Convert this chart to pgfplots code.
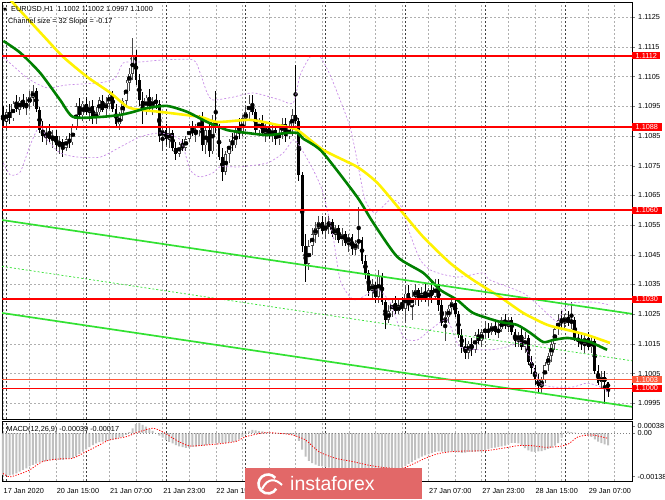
\documentclass[border=0pt]{standalone}
\usepackage{fontspec}
\setmainfont{Liberation Sans}
\newfontfamily\dejavu{DejaVu Sans}
\usepackage{pgfplots}
\usepackage{pgfplotstable}
\pgfplotsset{compat=1.18}

\definecolor{mtgreen}{RGB}{0,128,0}
\definecolor{chan}{RGB}{50,225,50}
\definecolor{bband}{RGB}{200,140,230}
\definecolor{histgray}{RGB}{192,192,192}
\definecolor{askline}{RGB}{255,90,60}
\definecolor{wmred}{RGB}{226,104,104}
\definecolor{gridgray}{RGB}{175,175,175}
\definecolor{bullgray}{RGB}{70,70,70}

\newcommand\lab{\fontsize{7.3}{8}\selectfont}
\tikzset{pricetag/.style={fill=red, text=white, font=\lab, anchor=west, inner xsep=3.5pt, inner ysep=1pt}}

% EURUSD H1 candles, bar 0 = 17 Jan 23:00
\pgfplotstableread{
i o h l c
0 1.1092 1.1095 1.1088 1.1090
1 1.1090 1.1094 1.1087 1.1093
2 1.1093 1.1096 1.1089 1.1091
3 1.1091 1.1097 1.1090 1.1096
4 1.1096 1.1099 1.1093 1.1094
5 1.1094 1.1098 1.1092 1.1097
6 1.1097 1.1099 1.1094 1.1095
7 1.1095 1.1098 1.1092 1.1096
8 1.1096 1.1100 1.1094 1.1098
9 1.1098 1.1102 1.1095 1.1100
10 1.1100 1.1101 1.1093 1.1094
11 1.1094 1.1095 1.1086 1.1087
12 1.1087 1.1090 1.1083 1.1085
13 1.1085 1.1088 1.1082 1.1086
14 1.1086 1.1089 1.1083 1.1084
15 1.1084 1.1087 1.1081 1.1085
16 1.1085 1.1087 1.1080 1.1082
17 1.1082 1.1085 1.1079 1.1083
18 1.1083 1.1084 1.1078 1.1081
19 1.1081 1.1085 1.1080 1.1084
20 1.1084 1.1086 1.1081 1.1083
21 1.1083 1.1089 1.1082 1.1088
22 1.1088 1.1096 1.1087 1.1095
23 1.1095 1.1098 1.1091 1.1092
24 1.1092 1.1097 1.1090 1.1096
25 1.1096 1.1098 1.1092 1.1093
26 1.1093 1.1097 1.1090 1.1095
27 1.1095 1.1097 1.1089 1.1091
28 1.1091 1.1095 1.1089 1.1093
29 1.1093 1.1098 1.1092 1.1097
30 1.1097 1.1099 1.1093 1.1094
31 1.1094 1.1098 1.1092 1.1096
32 1.1096 1.1100 1.1094 1.1099
33 1.1099 1.1100 1.1093 1.1094
34 1.1094 1.1096 1.1088 1.1089
35 1.1089 1.1093 1.1087 1.1092
36 1.1092 1.1098 1.1090 1.1097
37 1.1097 1.1104 1.1095 1.1103
38 1.1103 1.1108 1.1100 1.1106
39 1.1106 1.1118 1.1104 1.1112
40 1.1112 1.1114 1.1102 1.1104
41 1.1104 1.1106 1.1095 1.1097
42 1.1097 1.1100 1.1089 1.1094
43 1.1094 1.1099 1.1092 1.1098
44 1.1098 1.1101 1.1094 1.1095
45 1.1095 1.1098 1.1092 1.1097
46 1.1097 1.1099 1.1094 1.1096
47 1.1096 1.1097 1.1083 1.1085
48 1.1085 1.1088 1.1080 1.1087
49 1.1087 1.1089 1.1082 1.1084
50 1.1084 1.1088 1.1081 1.1086
51 1.1086 1.1087 1.1080 1.1081
52 1.1081 1.1083 1.1077 1.1079
53 1.1079 1.1083 1.1078 1.1082
54 1.1082 1.1084 1.1080 1.1081
55 1.1081 1.1085 1.1080 1.1084
56 1.1084 1.1089 1.1083 1.1088
57 1.1088 1.1090 1.1085 1.1086
58 1.1086 1.1089 1.1083 1.1087
59 1.1087 1.1092 1.1085 1.1091
60 1.1091 1.1093 1.1080 1.1082
61 1.1082 1.1088 1.1079 1.1087
62 1.1087 1.1089 1.1078 1.1080
63 1.1080 1.1092 1.1079 1.1090
64 1.1090 1.1100 1.1086 1.1088
65 1.1088 1.1089 1.1077 1.1078
66 1.1078 1.1081 1.1070 1.1073
67 1.1073 1.1080 1.1072 1.1079
68 1.1079 1.1084 1.1076 1.1083
69 1.1083 1.1086 1.1080 1.1082
70 1.1082 1.1088 1.1081 1.1087
71 1.1087 1.1091 1.1084 1.1086
72 1.1086 1.1092 1.1085 1.1091
73 1.1091 1.1095 1.1088 1.1093
74 1.1093 1.1099 1.1090 1.1096
75 1.1096 1.1099 1.1092 1.1093
76 1.1093 1.1094 1.1086 1.1087
77 1.1087 1.1091 1.1085 1.1090
78 1.1090 1.1092 1.1085 1.1086
79 1.1086 1.1089 1.1083 1.1088
80 1.1088 1.1090 1.1084 1.1085
81 1.1085 1.1089 1.1083 1.1087
82 1.1087 1.1089 1.1082 1.1084
83 1.1084 1.1088 1.1082 1.1086
84 1.1086 1.1091 1.1084 1.1089
85 1.1089 1.1091 1.1083 1.1085
86 1.1085 1.1090 1.1084 1.1088
87 1.1088 1.1094 1.1085 1.1092
88 1.1092 1.1109 1.1089 1.1090
89 1.1090 1.1091 1.1070 1.1072
90 1.1072 1.1073 1.1046 1.1048
91 1.1048 1.1052 1.1036 1.1042
92 1.1042 1.1050 1.1040 1.1048
93 1.1048 1.1054 1.1045 1.1052
94 1.1052 1.1056 1.1049 1.1054
95 1.1054 1.1058 1.1051 1.1056
96 1.1056 1.1058 1.1052 1.1053
97 1.1053 1.1057 1.1051 1.1055
98 1.1055 1.1058 1.1052 1.1056
99 1.1056 1.1057 1.1051 1.1052
100 1.1052 1.1055 1.1050 1.1054
101 1.1054 1.1055 1.1049 1.1050
102 1.1050 1.1054 1.1048 1.1052
103 1.1052 1.1053 1.1048 1.1049
104 1.1049 1.1052 1.1046 1.1051
105 1.1051 1.1052 1.1045 1.1047
106 1.1047 1.1050 1.1045 1.1049
107 1.1049 1.1061 1.1047 1.1050
108 1.1050 1.1051 1.1042 1.1043
109 1.1043 1.1045 1.1037 1.1039
110 1.1039 1.1040 1.1031 1.1033
111 1.1033 1.1037 1.1030 1.1035
112 1.1035 1.1036 1.1029 1.1031
113 1.1031 1.1040 1.1029 1.1038
114 1.1038 1.1039 1.1028 1.1029
115 1.1029 1.1030 1.1020 1.1023
116 1.1023 1.1028 1.1022 1.1026
117 1.1026 1.1030 1.1024 1.1029
118 1.1029 1.1031 1.1025 1.1026
119 1.1026 1.1030 1.1025 1.1028
120 1.1028 1.1031 1.1026 1.1027
121 1.1027 1.1034 1.1022 1.1032
122 1.1032 1.1035 1.1026 1.1028
123 1.1028 1.1033 1.1023 1.1031
124 1.1031 1.1035 1.1028 1.1033
125 1.1033 1.1034 1.1028 1.1030
126 1.1030 1.1034 1.1029 1.1032
127 1.1032 1.1035 1.1029 1.1030
128 1.1030 1.1034 1.1028 1.1033
129 1.1033 1.1036 1.1029 1.1031
130 1.1031 1.1037 1.1030 1.1035
131 1.1035 1.1037 1.1026 1.1028
132 1.1028 1.1030 1.1021 1.1022
133 1.1022 1.1026 1.1016 1.1024
134 1.1024 1.1028 1.1022 1.1027
135 1.1027 1.1031 1.1025 1.1029
136 1.1029 1.1030 1.1024 1.1025
137 1.1025 1.1026 1.1017 1.1018
138 1.1018 1.1020 1.1012 1.1014
139 1.1014 1.1017 1.1010 1.1012
140 1.1012 1.1016 1.1010 1.1015
141 1.1015 1.1017 1.1011 1.1013
142 1.1013 1.1019 1.1012 1.1018
143 1.1018 1.1020 1.1015 1.1016
144 1.1016 1.1020 1.1014 1.1019
145 1.1019 1.1022 1.1017 1.1020
146 1.1020 1.1022 1.1017 1.1019
147 1.1019 1.1022 1.1018 1.1021
148 1.1021 1.1023 1.1018 1.1019
149 1.1019 1.1022 1.1017 1.1020
150 1.1020 1.1024 1.1019 1.1023
151 1.1023 1.1025 1.1020 1.1021
152 1.1021 1.1024 1.1019 1.1023
153 1.1023 1.1024 1.1018 1.1019
154 1.1019 1.1020 1.1014 1.1016
155 1.1016 1.1019 1.1014 1.1018
156 1.1018 1.1021 1.1013 1.1014
157 1.1014 1.1019 1.1012 1.1017
158 1.1017 1.1018 1.1008 1.1009
159 1.1009 1.1011 1.1005 1.1007
160 1.1007 1.1008 1.1001 1.1003
161 1.1003 1.1005 1.0999 1.1001
162 1.1001 1.1004 1.0998 1.1003
163 1.1003 1.1009 1.1002 1.1008
164 1.1008 1.1012 1.1006 1.1011
165 1.1011 1.1016 1.1009 1.1015
166 1.1015 1.1021 1.1013 1.1020
167 1.1020 1.1025 1.1018 1.1023
168 1.1023 1.1026 1.1020 1.1022
169 1.1022 1.1025 1.1020 1.1024
170 1.1024 1.1026 1.1021 1.1022
171 1.1022 1.1029 1.1020 1.1023
172 1.1023 1.1024 1.1016 1.1017
173 1.1017 1.1019 1.1014 1.1016
174 1.1016 1.1018 1.1013 1.1015
175 1.1015 1.1018 1.1012 1.1017
176 1.1017 1.1019 1.1013 1.1014
177 1.1014 1.1018 1.1012 1.1016
178 1.1016 1.1017 1.1005 1.1006
179 1.1006 1.1008 1.1001 1.1002
180 1.1002 1.1006 1.1000 1.1004
181 1.1004 1.1006 1.0995 1.1002
182 1.1002 1.1002 1.0997 1.1000
}\candles

% MACD(12,26,9) main line (histogram)
\pgfplotstableread[row sep=\\]{
i m \\
0 -0.00133 \\ 1 -0.00134 \\ 2 -0.00134 \\ 3 -0.00132 \\ 4 -0.00128 \\ 5 -0.00122 \\ 6 -0.00117 \\ 7 -0.00112 \\
8 -0.00106 \\ 9 -0.00101 \\ 10 -0.00097 \\ 11 -0.00093 \\ 12 -0.00091 \\ 13 -0.00089 \\ 14 -0.00087 \\ 15 -0.00085 \\
16 -0.00085 \\ 17 -0.00085 \\ 18 -0.00085 \\ 19 -0.00083 \\ 20 -0.00081 \\ 21 -0.00079 \\ 22 -0.00074 \\ 23 -0.00066 \\
24 -0.00059 \\ 25 -0.00052 \\ 26 -0.00045 \\ 27 -0.00038 \\ 28 -0.00033 \\ 29 -0.00029 \\ 30 -0.00027 \\ 31 -0.00025 \\
32 -0.00023 \\ 33 -0.00022 \\ 34 -0.00019 \\ 35 -0.00015 \\ 36 -0.00012 \\ 37 -0.00006 \\ 38 0.00003 \\ 39 0.00015 \\
40 0.00028 \\ 41 0.00032 \\ 42 0.00026 \\ 43 0.00020 \\ 44 0.00013 \\ 45 0.00007 \\ 46 0.00000 \\ 47 -0.00008 \\
48 -0.00015 \\ 49 -0.00022 \\ 50 -0.00028 \\ 51 -0.00033 \\ 52 -0.00038 \\ 53 -0.00042 \\ 54 -0.00045 \\ 55 -0.00047 \\
56 -0.00046 \\ 57 -0.00044 \\ 58 -0.00043 \\ 59 -0.00041 \\ 60 -0.00040 \\ 61 -0.00038 \\ 62 -0.00036 \\ 63 -0.00034 \\
64 -0.00032 \\ 65 -0.00032 \\ 66 -0.00033 \\ 67 -0.00032 \\ 68 -0.00030 \\ 69 -0.00028 \\ 70 -0.00027 \\ 71 -0.00020 \\
72 -0.00012 \\ 73 -0.00004 \\ 74 0.00005 \\ 75 0.00010 \\ 76 0.00008 \\ 77 0.00006 \\ 78 0.00005 \\ 79 0.00003 \\
80 0.00002 \\ 81 0.00000 \\ 82 -0.00001 \\ 83 -0.00002 \\ 84 -0.00002 \\ 85 -0.00003 \\ 86 -0.00004 \\ 87 -0.00005 \\
88 -0.00006 \\ 89 -0.00025 \\ 90 -0.00053 \\ 91 -0.00075 \\ 92 -0.00088 \\ 93 -0.00095 \\ 94 -0.00100 \\ 95 -0.00104 \\
96 -0.00106 \\ 97 -0.00108 \\ 98 -0.00110 \\ 99 -0.00112 \\ 100 -0.00113 \\ 101 -0.00114 \\ 102 -0.00114 \\ 103 -0.00115 \\
104 -0.00116 \\ 105 -0.00117 \\ 106 -0.00118 \\ 107 -0.00117 \\ 108 -0.00119 \\ 109 -0.00122 \\ 110 -0.00125 \\ 111 -0.00126 \\
112 -0.00127 \\ 113 -0.00125 \\ 114 -0.00125 \\ 115 -0.00126 \\ 116 -0.00124 \\ 117 -0.00121 \\ 118 -0.00118 \\ 119 -0.00114 \\
120 -0.00110 \\ 121 -0.00104 \\ 122 -0.00098 \\ 123 -0.00092 \\ 124 -0.00086 \\ 125 -0.00080 \\ 126 -0.00075 \\ 127 -0.00071 \\
128 -0.00068 \\ 129 -0.00064 \\ 130 -0.00060 \\ 131 -0.00058 \\ 132 -0.00059 \\ 133 -0.00060 \\ 134 -0.00060 \\ 135 -0.00059 \\
136 -0.00059 \\ 137 -0.00061 \\ 138 -0.00063 \\ 139 -0.00062 \\ 140 -0.00060 \\ 141 -0.00060 \\ 142 -0.00059 \\ 143 -0.00059 \\
144 -0.00057 \\ 145 -0.00054 \\ 146 -0.00051 \\ 147 -0.00048 \\ 148 -0.00046 \\ 149 -0.00044 \\ 150 -0.00042 \\ 151 -0.00040 \\
152 -0.00036 \\ 153 -0.00031 \\ 154 -0.00031 \\ 155 -0.00033 \\ 156 -0.00040 \\ 157 -0.00048 \\ 158 -0.00055 \\ 159 -0.00059 \\
160 -0.00060 \\ 161 -0.00058 \\ 162 -0.00057 \\ 163 -0.00054 \\ 164 -0.00050 \\ 165 -0.00046 \\ 166 -0.00040 \\ 167 -0.00032 \\
168 -0.00015 \\ 169 0.00000 \\ 170 0.00004 \\ 171 0.00003 \\ 172 0.00001 \\ 173 0.00000 \\ 174 -0.00001 \\ 175 -0.00004 \\
176 -0.00008 \\ 177 -0.00012 \\ 178 -0.00020 \\ 179 -0.00027 \\ 180 -0.00032 \\ 181 -0.00036 \\ 182 -0.00039 \\
}\macd

\begin{document}
\begin{tikzpicture}[x=1pt,y=1pt]
\useasboundingbox (0,0) rectangle (665,499);

\pgfplotsset{
  mtaxis/.style={
    scale only axis, anchor=south west,
    width=630pt,
    xmin=-0.3, xmax=189.2,
    axis line style={black, line width=0.8pt},
    xtick={0,16,...,176}, minor xtick={8,24,...,184},
    xmajorgrids, xminorgrids,
    grid style={gridgray, dash pattern=on 2pt off 2pt, line width=0.5pt},
    extra x ticks={1,25,49,73,97,121,145,169},
    extra x tick labels={},
    extra x tick style={major tick length=0pt,
      grid style={black!75, dash pattern=on 2pt off 2pt, line width=0.6pt}},
    ytick pos=right, yticklabel pos=right,
    tick align=outside, major tick length=3pt, minor tick length=0pt,
    xtick style={draw=none},
    ticklabel style={font=\lab, black},
    yticklabel style={anchor=west, inner sep=0pt, xshift=3pt},
    scaled y ticks=false,
    clip mode=individual,
  },
}

% ---------------- price panel ----------------
\begin{axis}[mtaxis,
  at={(2pt,80pt)}, height=417pt,
  ymin=1.09897, ymax=1.11301,
  ymajorgrids,
  xticklabels={},
  ytick={1.0995,1.1005,1.1015,1.1025,1.1035,1.1045,1.1055,1.1065,1.1075,1.1085,1.1095,1.1105,1.1115,1.1125},
  yticklabels={1.0995,1.1005,1.1015,1.1025,1.1035,1.1045,1.1055,1.1065,1.1075,1.1085,1.1095,1.1105,1.1115,1.1125},
]
% wicks
\addplot[only marks, mark=none, forget plot, error bars/.cd, y dir=both, y explicit, error mark=none,
  error bar style={draw=bullgray, line width=0.8pt}]
  table[x=i, y expr={\thisrow{c}>=\thisrow{o} ? (\thisrow{h}+\thisrow{l})/2 : nan},
        y error expr={(\thisrow{h}-\thisrow{l})/2}] {\candles};
\addplot[only marks, mark=none, forget plot, error bars/.cd, y dir=both, y explicit, error mark=none,
  error bar style={draw=black, line width=0.8pt}]
  table[x=i, y expr={\thisrow{c}<\thisrow{o} ? (\thisrow{h}+\thisrow{l})/2 : nan},
        y error expr={(\thisrow{h}-\thisrow{l})/2}] {\candles};
% bear bodies
\addplot[only marks, mark=none, forget plot, error bars/.cd, y dir=both, y explicit, error mark=none,
  error bar style={draw=black, line width=2.8pt}]
  table[x=i, y expr={\thisrow{c}<\thisrow{o} ? (\thisrow{o}+\thisrow{c})/2 : nan},
        y error expr={max(abs(\thisrow{o}-\thisrow{c})/2,0.00002)}] {\candles};
% bull bodies: dark outline, white inside
\addplot[only marks, mark=none, forget plot, error bars/.cd, y dir=both, y explicit, error mark=none,
  error bar style={draw=bullgray, line width=3pt}]
  table[x=i, y expr={\thisrow{c}>=\thisrow{o} ? (\thisrow{o}+\thisrow{c})/2 : nan},
        y error expr={max(abs(\thisrow{o}-\thisrow{c})/2,0.00002)}] {\candles};
\addplot[only marks, mark=none, forget plot, error bars/.cd, y dir=both, y explicit, error mark=none,
  error bar style={draw=white, line width=1.4pt}]
  table[x=i, y expr={\thisrow{c}>=\thisrow{o} ? (\thisrow{o}+\thisrow{c})/2 : nan},
        y error expr={max(abs(\thisrow{o}-\thisrow{c})/2-0.00002,0)}] {\candles};

% bands
\addplot[bband, line width=0.7pt, dash pattern=on 2pt off 2pt, smooth, tension=0.4] coordinates {
(0.1,1.11116) (7.3,1.11045) (13.3,1.11012) (19.3,1.11022) (29.3,1.11029) (33.8,1.11045)
(36.2,1.11096) (41.3,1.11099) (48.2,1.11106) (57.2,1.11106) (59.3,1.11062) (61.4,1.10995)
(63.2,1.10971) (69.3,1.10981) (75.3,1.10995) (83.4,1.10971) (87.3,1.10961) (89.4,1.11055)
(92.4,1.11116) (95.4,1.11116) (98.4,1.11055) (101.4,1.10971) (104.4,1.10880) (106.5,1.10769)
(108.9,1.10635) (111.9,1.10591) (116.5,1.10635) (119.5,1.10618) (122.5,1.10517) (125.5,1.10433)
(128.5,1.10399) (133,1.10382) (137.5,1.10375) (144.4,1.10389) (146.5,1.10365) (156.5,1.10321)
(161.6,1.10274) (166.7,1.10224) (168.5,1.10264) (171.5,1.10288) (177.5,1.10291) (182.6,1.10281)};
\addplot[bband, line width=0.7pt, dash pattern=on 2pt off 2pt, smooth, tension=0.4] coordinates {
(0.1,1.10759) (2.2,1.10719) (5.2,1.10729) (8.2,1.10820) (11.2,1.10887) (13.3,1.10837)
(17.2,1.10793) (22.3,1.10779) (29.3,1.10779) (35.3,1.10813) (41.3,1.10847) (47.3,1.10860)
(53.3,1.10837) (56.3,1.10736) (59.3,1.10712) (63.2,1.10726) (65.3,1.10746) (71.4,1.10746)
(79.5,1.10759) (84.3,1.10793) (87.3,1.10837) (89.4,1.10813) (93.3,1.10736) (96.3,1.10658)
(99.3,1.10510) (101.4,1.10365) (104.4,1.10308) (106.5,1.10298) (112.6,1.10332) (116.5,1.10288)
(120.4,1.10173) (124.6,1.10163) (128.5,1.10197) (133.6,1.10231) (137.5,1.10140) (146.5,1.10130)
(151.6,1.10140) (156.5,1.10153) (159.5,1.10072) (161.6,1.10018) (165.5,1.10005) (171.5,1.10005)
(175.7,1.10018) (179.6,1.10005) (182,1.09988)};

% moving averages
\addplot[yellow, line width=2.6pt, smooth, tension=0.4] coordinates {
(0.1,1.11335) (2.2,1.11308) (13.3,1.11173) (18.1,1.11116) (25.3,1.11049) (32.3,1.10995)
(37.4,1.10948) (41.3,1.10938) (47.3,1.10931) (59.3,1.10914) (64.4,1.10897) (74.4,1.10904)
(82.5,1.10887) (88.5,1.10870) (96.3,1.10803) (106.5,1.10746) (112.6,1.10692) (119.5,1.10601)
(126.4,1.10510) (134.5,1.10422) (141.4,1.10365) (149.5,1.10308) (156.5,1.10254) (163.7,1.10214)
(169.7,1.10197) (175.7,1.10180) (182.6,1.10153)};
\addplot[mtgreen, line width=2.6pt, smooth, tension=0.4] coordinates {
(0.1,1.11170) (5.2,1.11130) (11.2,1.11062) (17.2,1.10971) (21.1,1.10914) (29.3,1.10914)
(35.3,1.10921) (39.2,1.10931) (43.4,1.10944) (49.4,1.10951) (55.4,1.10931) (61.4,1.10897)
(67.4,1.10870) (73.5,1.10860) (79.5,1.10853) (85.5,1.10860) (88.5,1.10860) (90.4,1.10840)
(92.4,1.10827) (96.3,1.10793) (106.5,1.10645) (111.4,1.10557) (118.6,1.10443) (126.4,1.10389)
(131.5,1.10332) (136.6,1.10298) (141.4,1.10254) (149.5,1.10224) (154.6,1.10214) (158.6,1.10187)
(162.5,1.10156) (165.5,1.10163) (169.7,1.10170) (173.6,1.10163) (176.6,1.10156) (181.7,1.10130)};

% regression channel
\addplot[chan, line width=1.7pt] coordinates {(-0.3,1.10567) (189.2,1.10251)};
\addplot[chan, line width=0.7pt, dash pattern=on 2pt off 2pt] coordinates {(-0.3,1.10411) (189.2,1.10093)};
\addplot[chan, line width=1.7pt] coordinates {(-0.3,1.10254) (189.2,1.09938)};

% horizontal levels
\addplot[red, line width=1.8pt] coordinates {(-0.3,1.1112) (189.2,1.1112)};
\addplot[red, line width=1.8pt] coordinates {(-0.3,1.1088) (189.2,1.1088)};
\addplot[red, line width=1.8pt] coordinates {(-0.3,1.1060) (189.2,1.1060)};
\addplot[red, line width=1.8pt] coordinates {(-0.3,1.1030) (189.2,1.1030)};
\addplot[askline, line width=0.9pt] coordinates {(-0.3,1.1003) (189.2,1.1003)};
\addplot[red, line width=1.8pt] coordinates {(-0.3,1.1000) (189.2,1.1000)};

\node[pricetag] at (axis cs:189.2,1.1112) {1.1112};
\node[pricetag] at (axis cs:189.2,1.1088) {1.1088};
\node[pricetag] at (axis cs:189.2,1.1060) {1.1060};
\node[pricetag] at (axis cs:189.2,1.1030) {1.1030};
\node[pricetag, fill=askline] at (axis cs:189.2,1.1003) {1.1003};
\node[pricetag] at (axis cs:189.2,1.1000) {1.1000};
\end{axis}

% ---------------- MACD panel ----------------
\begin{axis}[mtaxis,
  at={(2pt,18pt)}, height=60pt,
  ymin=-0.00152, ymax=0.00038,
  ytick={0.00022,0,-0.00138},
  yticklabels={0.00038,0.00,-0.00138},
  yticklabel style={xshift=-0.5pt},
  xtick pos=bottom,
  % labels under the watermark are hidden in the original
  xticklabels={17 Jan 2020,20 Jan 15:00,21 Jan 07:00,21 Jan 23:00,22 Jan 15:00,{},
    {},{},27 Jan 07:00,27 Jan 23:00,28 Jan 15:00,29 Jan 07:00},
  xticklabel style={anchor=north west, inner sep=0pt, yshift=-4pt, xshift=0.5pt},
]
\addplot[ybar, bar width=2pt, fill=histgray, draw=none, forget plot] table[x=i, y=m] {\macd};
\addplot[gray, line width=0.5pt, dash pattern=on 1pt off 2pt] coordinates {(-0.3,0) (189.2,0)};
\addplot[red, line width=0.8pt, dash pattern=on 1.2pt off 1.5pt, smooth, tension=0.4] coordinates {
(0,-0.00128) (2,-0.00139) (5,-0.00130) (8,-0.00117) (12,-0.00090) (17,-0.00082) (21,-0.00080)
(25,-0.00059) (29,-0.00038) (32,-0.00022) (37,-0.00012) (41,0.00004) (45,0.00015) (48,0.00004)
(52,-0.00022) (56,-0.00041) (61,-0.00038) (66,-0.00033) (70,-0.00027) (73,-0.00012) (78,0.00000)
(82,0.00000) (87,-0.00006) (91,-0.00022) (95,-0.00059) (100,-0.00080) (105,-0.00090) (110,-0.00102)
(115,-0.00110) (120,-0.00112) (124,-0.00095) (127,-0.00080) (131,-0.00065) (136,-0.00058)
(141,-0.00057) (146,-0.00055) (151,-0.00047) (155,-0.00040) (159,-0.00040) (163,-0.00045)
(167,-0.00043) (170,-0.00035) (173,-0.00012) (177,-0.00006) (180,-0.00012) (182,-0.00017)};
\end{axis}

% header texts
\node[anchor=base west, inner sep=0pt] at (3,487.5) {\dejavu\fontsize{5}{6}\selectfont ▼};
\node[anchor=base west, inner sep=0pt, font=\lab] at (11,487.5) {EURUSD,H1\ \ 1.1002 1.1002 1.0997 1.1000};
\node[anchor=base west, inner sep=0pt, font=\lab] at (8,475.5) {Channel size = 32 Slope = -0.17};
\node[anchor=base west, inner sep=0pt, font=\lab] at (6.5,67.5) {MACD(12,26,9) -0.00039 -0.00017};

% watermark
\fill[wmred] (245,0) rectangle (422,31);
\draw[white, line width=2.6pt] (268,15) ++(40:9.5) arc (40:330:9.5);
\draw[white, line width=2pt] (262,10) .. controls (268,22) and (276,20) .. (282,14);
\node[anchor=base west, inner sep=0pt, text=white] at (290,9) {\fontsize{19.5}{20}\selectfont instaforex};
\end{tikzpicture}
\end{document}
